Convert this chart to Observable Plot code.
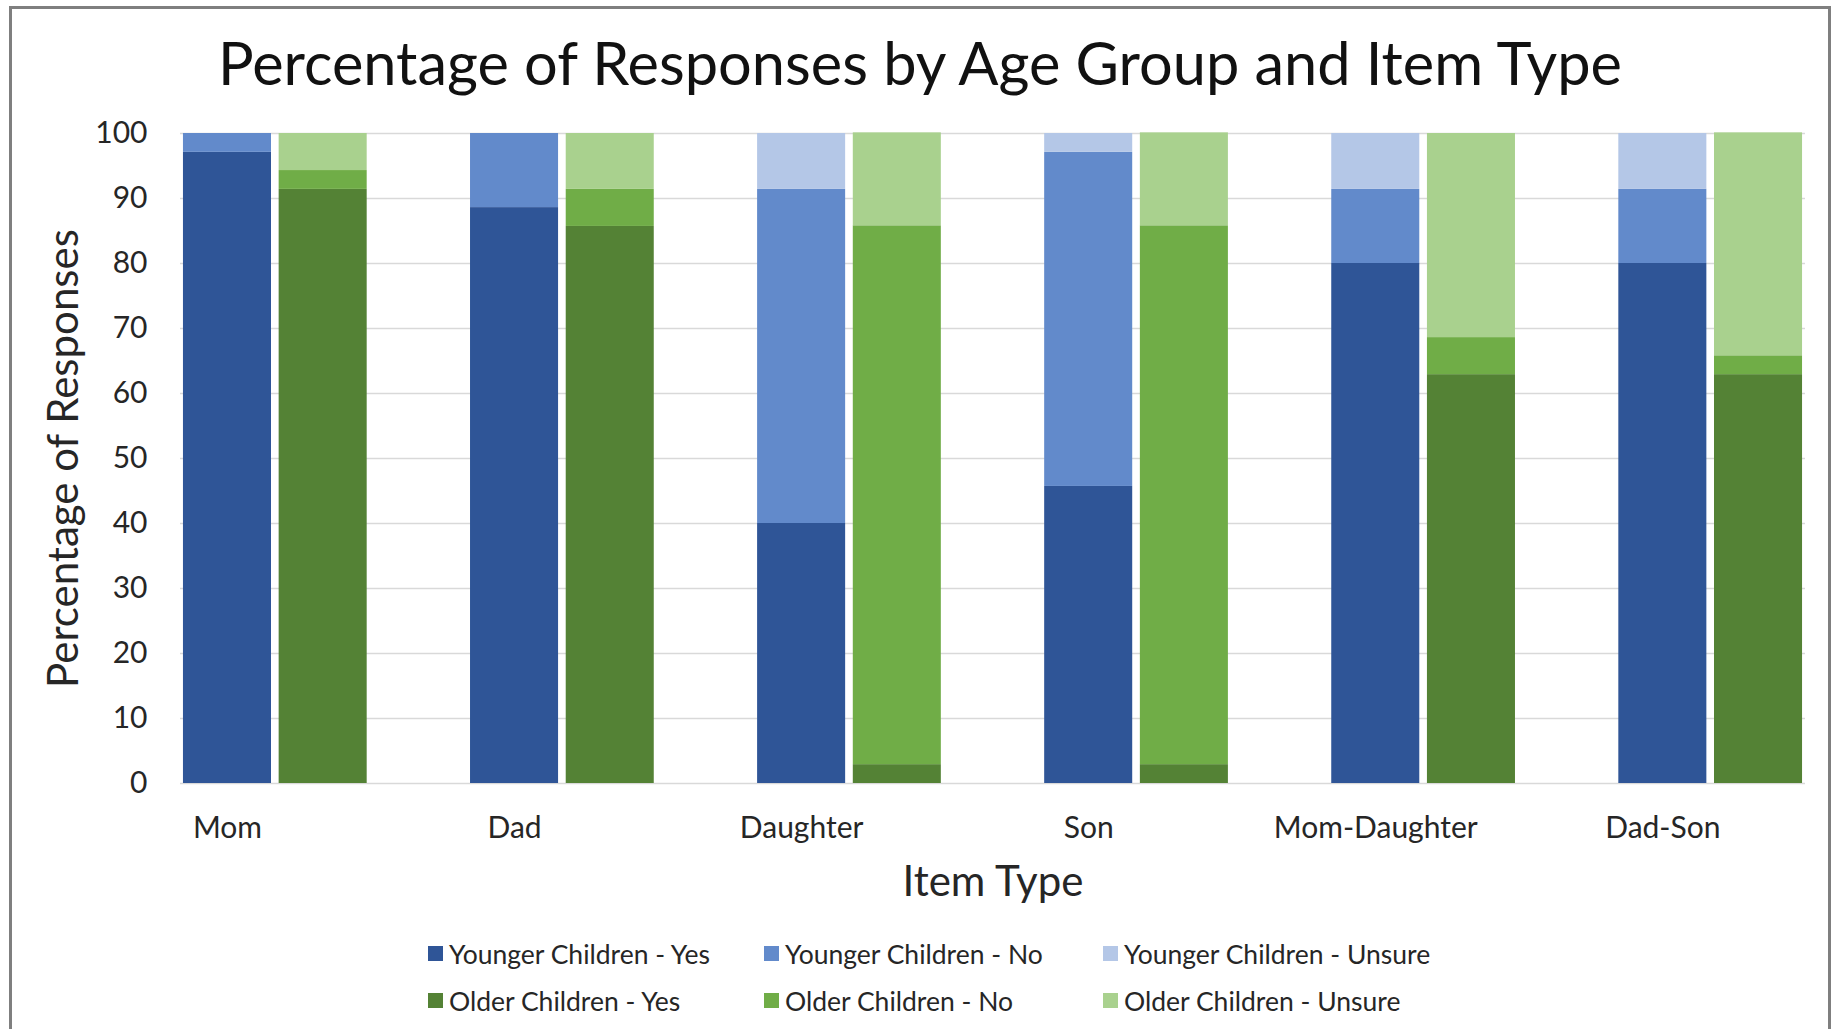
<!DOCTYPE html>
<html>
<head>
<meta charset="utf-8">
<script src="https://cdn.jsdelivr.net/npm/d3@7"></script>
<script src="https://cdn.jsdelivr.net/npm/@observablehq/plot@0.6"></script>
<style>
  html, body { margin: 0; padding: 0; background: #fff; }
  body { width: 1840px; height: 1029px; overflow: hidden; position: relative; font-family: Lato, "Open Sans", sans-serif; color: #262626; }
  #frame { position: absolute; left: 9px; top: 6px; width: 1822px; height: 1100px; border: 3px solid #7f7f7f; border-bottom: none; box-sizing: border-box; }
  #title { position: absolute; left: 0; top: 22px; width: 1840px; height: 80px; line-height: 80px; text-align: center; font-size: 59.5px; color: #111; white-space: nowrap; }
  #chart { position: absolute; left: 0; top: 100px; }
  #legend { position: absolute; left: 428px; top: 930px; display: grid; grid-template-columns: 336px 339px auto; grid-auto-rows: 47px; align-items: center; font-size: 26.5px; color: #262626; }
  .item { display: flex; align-items: center; white-space: nowrap; }
  .sw { width: 15px; height: 15px; margin-right: 6px; flex: none; }
</style>
</head>
<body>
<div id="frame"></div>
<div id="title"></div>
<div id="chart"></div>
<div id="legend"></div>
<script>
// ---- data (percent of responses) ----
const categories = ["Mom", "Dad", "Daughter", "Son", "Mom-Daughter", "Dad-Son"];
const youngerYes    = [97.1, 88.6, 40.0, 45.7, 80.0, 80.0];
const youngerNo     = [2.9, 11.4, 51.4, 51.4, 11.4, 11.4];
const youngerUnsure = [0.0, 0.0, 8.6, 2.9, 8.6, 8.6];
const olderYes      = [91.4, 85.7, 2.9, 2.9, 62.9, 62.9];
const olderNo       = [2.9, 5.7, 82.9, 82.9, 5.7, 2.9];
const olderUnsure   = [5.7, 8.6, 14.3, 14.3, 31.4, 34.3];
const seriesNames = [
  "Younger Children - Yes", "Younger Children - No", "Younger Children - Unsure",
  "Older Children - Yes", "Older Children - No", "Older Children - Unsure"
];
const seriesColors = ["#2F5597", "#628ACB", "#B4C7E7", "#548235", "#70AD47", "#A9D18E"];
const yTicks = [0, 10, 20, 30, 40, 50, 60, 70, 80, 90, 100];
const titleText = "Percentage of Responses by Age Group and Item Type";
const xLabel = "Item Type";
const yLabel = "Percentage of Responses";

// ---- build table ----
const groups = [
  {key: "Younger", vals: [youngerYes, youngerNo, youngerUnsure], names: seriesNames.slice(0, 3)},
  {key: "Older", vals: [olderYes, olderNo, olderUnsure], names: seriesNames.slice(3, 6)}
];
const slots = [];
categories.forEach((c, i) => {
  slots.push(c + "|Younger", c + "|Older");
  if (i < categories.length - 1) slots.push(c + "|gap");
});
const rows = [];
categories.forEach((c, i) => {
  groups.forEach(g => {
    g.vals.forEach((arr, j) => {
      rows.push({slot: c + "|" + g.key, series: g.names[j], value: arr[i]});
    });
  });
});

document.getElementById("title").textContent = titleText;

const chart = Plot.plot({
  width: 1840,
  height: 810,
  marginTop: 33,
  marginBottom: 127,
  marginLeft: 180,
  marginRight: 35,
  style: {fontFamily: "Lato, 'Open Sans', sans-serif", color: "#262626", background: "transparent"},
  x: {type: "band", domain: slots, padding: 0.08, round: false, range: [175.3, 1809.7]},
  y: {domain: [0, 100]},
  color: {domain: seriesNames, range: seriesColors},
  marks: [
    Plot.gridY(yTicks, {stroke: "#d9d9d9", strokeOpacity: 1, strokeWidth: 1.5}),
    Plot.barY(rows, {x: "slot", y: "value", fill: "series"}),
    Plot.axisY(yTicks, {tickSize: 0, tickPadding: 33, fontSize: 30, label: null}),
    Plot.axisX({tickSize: 0, tickPadding: 33, fontSize: 30, label: null,
      tickFormat: d => d.endsWith("|Younger") ? d.split("|")[0] : ""}),
    Plot.text([xLabel], {text: d => d, frameAnchor: "bottom", lineAnchor: "middle", textAnchor: "middle", dy: 99, fontSize: 42}),
    Plot.text([yLabel], {text: d => d, frameAnchor: "left", lineAnchor: "middle", textAnchor: "middle", dx: -116, rotate: -90, fontSize: 42})
  ]
});
document.getElementById("chart").appendChild(chart);

// ---- legend ----
const legend = document.getElementById("legend");
seriesNames.forEach((name, i) => {
  const item = document.createElement("div");
  item.className = "item";
  const sw = document.createElement("span");
  sw.className = "sw";
  sw.style.background = seriesColors[i];
  const t = document.createElement("span");
  t.textContent = name;
  item.appendChild(sw);
  item.appendChild(t);
  legend.appendChild(item);
});
</script>
</body>
</html>
